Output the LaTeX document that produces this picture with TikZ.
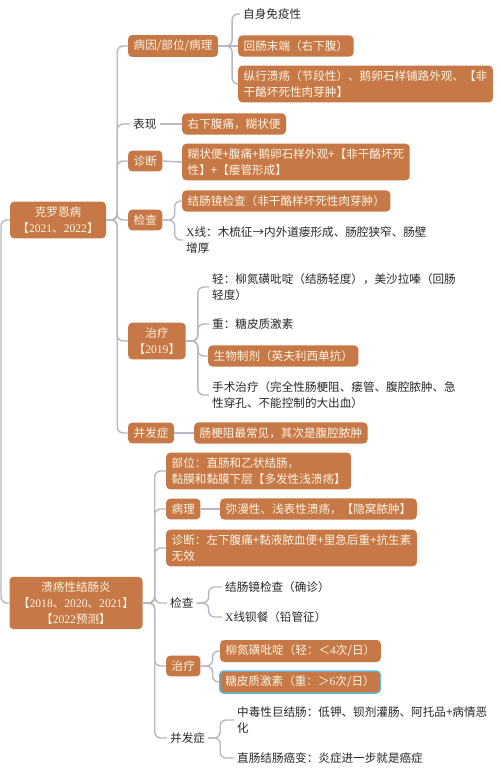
\documentclass[tikz,border=0pt]{standalone}
\usepackage{fontspec}
\setmainfont{Noto Sans CJK SC}
\newfontfamily\lat{Liberation Serif}
\definecolor{boxc}{RGB}{198,121,70}
\definecolor{boxt}{RGB}{255,244,228}
\definecolor{linec}{RGB}{184,184,196}
\definecolor{plainc}{RGB}{40,40,40}
\definecolor{selc}{RGB}{95,180,215}
\begin{document}
\begin{tikzpicture}[x=1pt,y=-1pt,
  every node/.style={font=\fontsize{11.6}{15.8}\selectfont},
  bx/.style={fill=boxc,text=boxt,rounded corners=4pt,inner xsep=5.5pt,inner ysep=5pt,anchor=west,align=left},
  pl/.style={text=plainc,inner xsep=3pt,inner ysep=3pt,anchor=west,align=left},
  conn/.style={draw=linec,line width=1.4pt,rounded corners=6pt}]
\fill[white] (0,0) rectangle (500,775);
\useasboundingbox (0,0) rectangle (500,775);

% ---------- Crohn ----------
\node[bx,anchor=center,minimum width=96pt,align=center] (croot) at (58,220) {克罗恩病\\【{\lat 2021}、{\lat 2022}】};

\node[bx] (c1) at (128,46) {病因/部位/病理};
\node[pl] (c2) at (130,124) {表现};
\node[bx] (c3) at (128,161) {诊断};
\node[bx] (c4) at (128,220) {检查};
\node[bx,align=center] (c5) at (128,341) {治疗\\【{\lat 2019}】};
\node[bx] (c6) at (128,433) {并发症};

\node[pl] (c1a) at (240,14) {自身免疫性};
\node[bx] (c1b) at (238,46) {回肠末端（右下腹）};
\node[bx] (c1c) at (238,84) {纵行溃疡（节段性）、鹅卵石样铺路外观、【非\\干酪坏死性肉芽肿】};
\node[bx] (c2a) at (182,124) {右下腹痛，糊状便};
\node[bx] (c3a) at (182,162) {糊状便+腹痛+鹅卵石样外观+【非干酪坏死\\性】+【瘘管形成】};
\node[bx] (c4a) at (182,201) {结肠镜检查（非干酪样坏死性肉芽肿）};
\node[pl] (c4b) at (183,240) {{\lat X}线：木梳征→内外道瘘形成、肠腔狭窄、肠壁\\增厚};
\node[pl] (c5a) at (209,287) {轻：柳氮磺吡啶（结肠轻度），美沙拉嗪（回肠\\轻度）};
\node[pl] (c5b) at (209,324) {重：糖皮质激素};
\node[bx] (c5c) at (208,356) {生物制剂（英夫利西单抗）};
\node[pl] (c5d) at (209,395) {手术治疗（完全性肠梗阻、瘘管、腹腔脓肿、急\\性穿孔、不能控制的大出血）};
\node[bx] (c6a) at (194,433) {肠梗阻最常见，其次是腹腔脓肿};

% ---------- UC ----------
\node[bx,anchor=center,minimum width=133pt,align=center] (uroot) at (76,603) {溃疡性结肠炎\\【{\lat 2018}、{\lat 2020}、{\lat 2021}】\\【{\lat 2022}预测】};

\node[bx] (u1) at (166,471) {部位：直肠和乙状结肠，\\黏膜和黏膜下层【多发性浅溃疡】};
\node[bx] (u2) at (166,509) {病理};
\node[bx] (u2a) at (220,509) {弥漫性、浅表性溃疡，【隐窝脓肿】};
\node[bx] (u3) at (166,548) {诊断：左下腹痛+黏液脓血便+里急后重+抗生素\\无效};
\node[pl] (u4) at (167,603) {检查};
\node[pl] (u4a) at (222,587) {结肠镜检查（确诊）};
\node[pl] (u4b) at (222,617) {{\lat X}线钡餐（铅管征）};
\node[bx] (u5) at (166,666) {治疗};
\node[bx] (u5a) at (220,651) {柳氮磺吡啶（轻：＜{\lat 4}次/日）};
\node[bx,draw=selc,line width=1.5pt] (u5b) at (219,682) {糖皮质激素（重：＞{\lat 6}次/日）};
\node[pl] (u6) at (167,738) {并发症};
\node[pl] (u6a) at (234,720) {中毒性巨结肠：低钾、钡剂灌肠、阿托品+病情恶\\化};
\node[pl] (u6b) at (234,758) {直肠结肠癌变：炎症进一步就是癌症};

% ---------- connectors ----------
\coordinate (L) at (1,0);
\draw[conn] (croot.west) -- (L |- croot.west) -- (L |- uroot.west) -- (uroot.west);

\foreach \c in {c1,c2,c3,c4,c5,c6}
  \draw[conn] (croot.east) -- ++(11,0) |- (\c.west);
\foreach \c in {c1a,c1c}
  \draw[conn] (c1.east) -- ++(14,0) |- (\c.west);
\draw[conn] (c1.east) -- (c1b.west);
\draw[conn] (c2.east) -- (c2a.west);
\draw[conn] (c3.east) -- (c3a.west);
\foreach \c in {c4a,c4b}
  \draw[conn] (c4.east) -- ++(12,0) |- (\c.west);
\foreach \c in {c5a,c5b,c5c,c5d}
  \draw[conn] (c5.east) -- ++(12,0) |- (\c.west);
\draw[conn] (c6.east) -- (c6a.west);

\foreach \c in {u1,u2,u3,u4,u5,u6}
  \draw[conn] (uroot.east) -- ++(12,0) |- (\c.west);
\draw[conn] (u2.east) -- (u2a.west);
\foreach \c in {u4a,u4b}
  \draw[conn] (u4.east) -- ++(12,0) |- (\c.west);
\foreach \c in {u5a,u5b}
  \draw[conn] (u5.east) -- ++(12,0) |- (\c.west);
\foreach \c in {u6a,u6b}
  \draw[conn] (u6.east) -- ++(12,0) |- (\c.west);
\end{tikzpicture}
\end{document}
